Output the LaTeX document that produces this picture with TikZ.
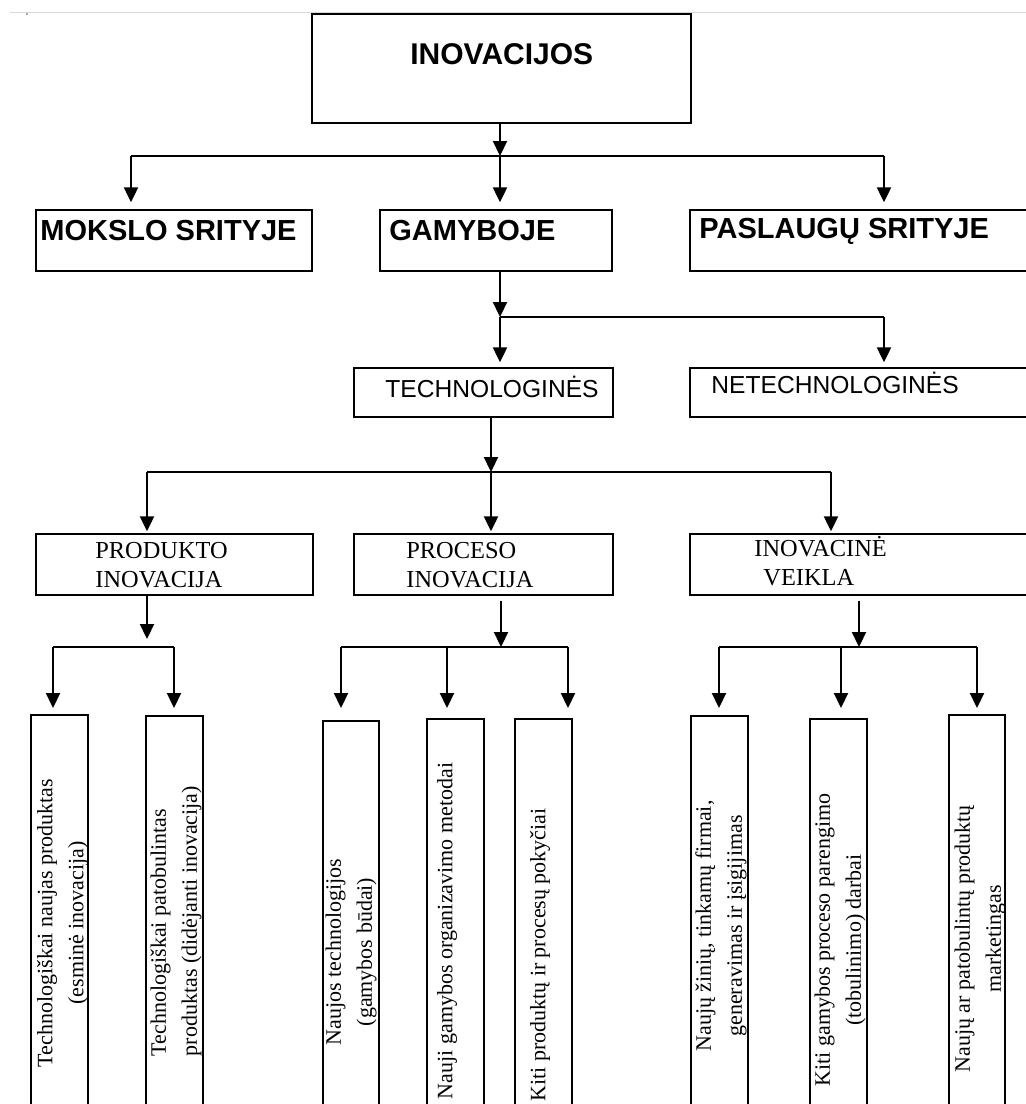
\documentclass[tikz,border=0pt]{standalone}
\usepackage{fontspec}
\setmainfont{Liberation Serif}
\setsansfont{Liberation Sans}
\usetikzlibrary{arrows.meta}

\begin{document}
\begin{tikzpicture}[x=0.5pt,y=-0.5pt,
  box/.style={draw,line width=0.7pt,inner sep=0pt},
  lbl/.style={inner sep=0pt,anchor=base west},
  head/.style={lbl,font=\sffamily\bfseries\fontsize{14.5}{17}\selectfont},
  sub/.style={lbl,font=\sffamily\fontsize{12.3}{15}\selectfont},
  kind/.style={inner sep=0pt,anchor=west,align=left,font=\fontsize{12.2}{14.5}\selectfont},
  vert/.style={inner sep=0pt,rotate=90,font=\fontsize{11}{15.5}\selectfont},
  link/.style={line width=1.1pt},
  arr/.style={link,-{Triangle[length=7.5pt,width=7pt]}}]

\useasboundingbox (0,0) rectangle (1026,1104);
\clip (0,0) rectangle (1026,1104);

% page edge
\draw[gray!30,line width=0.5pt] (10,12) -- (1026,12);
\fill[gray!70] (26,13) rectangle (28,15);

% top
\node[box,minimum width=189.5pt,minimum height=54.5pt] (inov) at (501.5,68.5) {};
\node[lbl,font=\sffamily\bfseries\fontsize{15}{18}\selectfont] (inov-t) at (410,64) {INOVACIJOS};

% second row
\node[box,minimum width=138pt,minimum height=30.5pt] (mokslo) at (174,240.5) {};
\node[box,minimum width=116pt,minimum height=30.5pt] (gamyb) at (496,240.5) {};
\node[box,minimum width=175pt,minimum height=30.5pt] (paslaug) at (865,240.5) {};
\node[head] (mokslo-t) at (40,240) {MOKSLO SRITYJE};
\node[head] (gamyb-t) at (389,240) {GAMYBOJE};
\node[head] (paslaug-t) at (699,238) {PASLAUGŲ SRITYJE};

% third row
\node[box,minimum width=129.5pt,minimum height=24.5pt] (techn) at (483.5,392.5) {};
\node[box,minimum width=175pt,minimum height=24.5pt] (netech) at (865,392.5) {};
\node[sub] (techn-t) at (385,397) {TECHNOLOGINĖS};
\node[sub] (netech-t) at (711,393) {NETECHNOLOGINĖS};

% fourth row
\node[box,minimum width=138.5pt,minimum height=30.5pt] (produkto) at (174.5,564.5) {};
\node[box,minimum width=129.5pt,minimum height=30.5pt] (proceso) at (483.5,564.5) {};
\node[box,minimum width=175pt,minimum height=30.5pt] (veikla) at (865,564.5) {};
\node[kind] (produkto-t) at (95,565) {PRODUKTO\\INOVACIJA};
\node[kind] (proceso-t) at (406,565) {PROCESO\\INOVACIJA};
\node[kind] (veikla-t) at (754,561) {INOVACINĖ\\\hspace*{4.5pt}VEIKLA};

% bottom row
\foreach \n/\x/\y/\w in {b1/59.5/917/28.5, b2/174.5/918/28.5, b3/351/923/28,
    b4/455.5/921/28.5, b5/543.5/921/28.5, b6/719.5/918/28.5,
    b7/838.5/921/28.5, b8/977/917/28}
  \node[box,minimum width=\w pt,minimum height=202pt] (\n) at (\x,\y) {};
\node[vert,align=center] (b1-t) at (62.5,923) {Technologiškai naujas produktas\\(esminė inovacija)};
\node[vert,align=left] (b2-t) at (176,921) {Technologiškai patobulintas\\produktas (didėjanti inovacija)};
\node[vert,align=center] (b3-t) at (351,952) {Naujos technologijos\\(gamybos būdai)};
\node[vert] (b4-t) at (447,931) {Nauji gamybos organizavimo metodai};
\node[vert] (b5-t) at (540,955) {Kiti produktų ir procesų pokyčiai};
\node[vert,align=center] (b6-t) at (721,926) {Naujų žinių, tinkamų firmai,\\generavimas ir įsigijimas};
\node[vert,align=center] (b7-t) at (840,940) {Kiti gamybos proceso parengimo\\(tobulinimo) darbai};
\node[vert,align=center] (b8-t) at (980,939) {Naujų ar patobulintų produktų\\marketingas};

% arrows: inovacijos
\coordinate (j0) at (500,156);
\coordinate (j0l) at (131,156);
\coordinate (j0r) at (884,156);
\draw[arr] (inov.south -| j0) -- (j0);
\draw[link] (j0l) -- (j0r);
\draw[arr,shorten >=3.5pt] (j0l) -- (j0l |- mokslo.north);
\draw[arr,shorten >=3.5pt] (j0) -- (j0 |- gamyb.north);
\draw[arr,shorten >=3.5pt] (j0r) -- (j0r |- paslaug.north);

% arrows: gamyboje
\coordinate (j1) at (500,317);
\coordinate (j1r) at (884,317);
\draw[arr] (gamyb.south -| j1) -- (j1);
\draw[link] (j1) -- (j1r);
\draw[arr,shorten >=2.5pt] (j1) -- (j1 |- techn.north);
\draw[arr,shorten >=2.5pt] (j1r) -- (j1r |- netech.north);

% arrows: technologines
\coordinate (j2) at (491,472);
\coordinate (j2l) at (147,472);
\coordinate (j2r) at (831,472);
\draw[arr] (techn.south -| j2) -- (j2);
\draw[link] (j2l) -- (j2r);
\draw[arr,shorten >=1pt] (j2l) -- (j2l |- produkto.north);
\draw[arr,shorten >=1pt] (j2) -- (j2 |- proceso.north);
\draw[arr,shorten >=1pt] (j2r) -- (j2r |- veikla.north);

% arrows: bottom
\coordinate (tips) at (0,708);
\coordinate (j3) at (147,647);
\coordinate (j3a) at (53,647);
\coordinate (j3b) at (174,647);
\draw[arr,shorten >=4pt] (produkto.south -| j3) -- (j3);
\draw[link] (j3a) -- (j3b);

\coordinate (j4) at (501,647);
\coordinate (j4a) at (341,647);
\coordinate (j4b) at (447,647);
\coordinate (j4c) at (568,647);
\draw[arr] ([yshift=-2.5pt]proceso.south -| j4) -- (j4);
\draw[link] (j4a) -- (j4c);

\coordinate (j5) at (859,647);
\coordinate (j5a) at (719,647);
\coordinate (j5b) at (841,647);
\coordinate (j5c) at (977,647);
\draw[arr] ([yshift=-2.5pt]veikla.south -| j5) -- (j5);
\draw[link] (j5a) -- (j5c);

\foreach \j in {j3a,j3b,j4a,j4b,j4c,j5a,j5b,j5c}
  \draw[arr] (\j) -- (\j |- tips);

\end{tikzpicture}
\end{document}
